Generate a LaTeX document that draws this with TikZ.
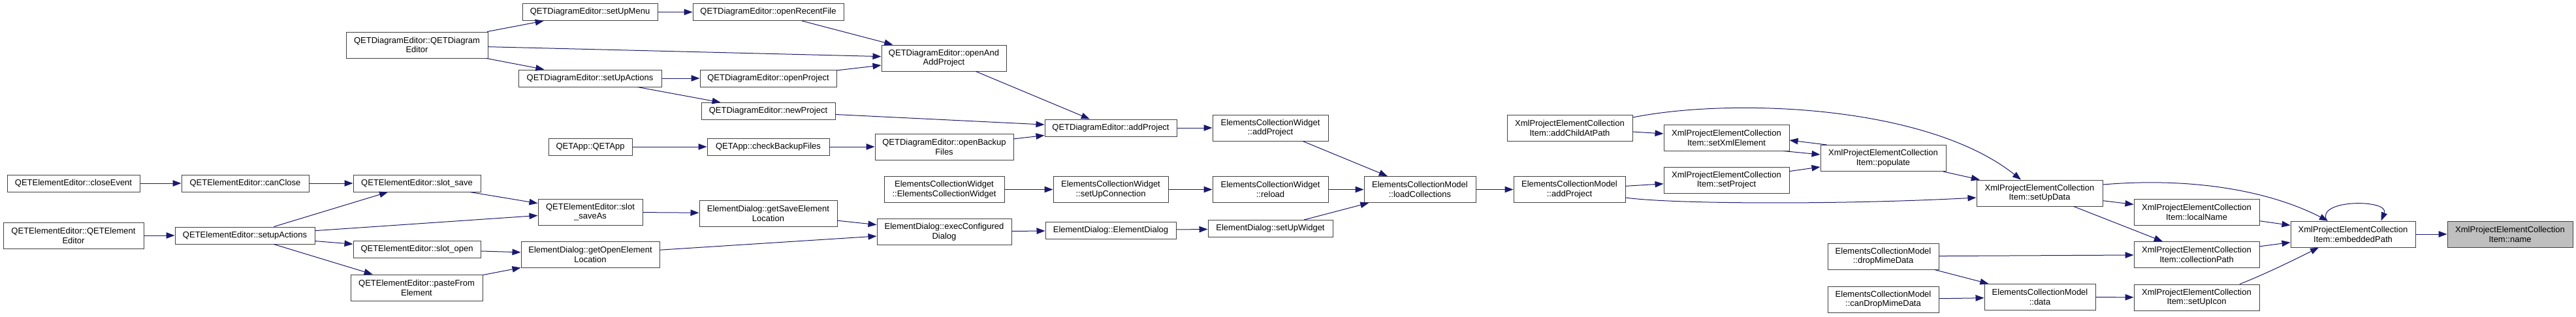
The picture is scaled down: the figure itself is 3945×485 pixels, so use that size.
\documentclass[tikz,border=0pt]{standalone}
\usepackage{fontspec}
\setmainfont{Liberation Sans}
\usetikzlibrary{arrows.meta}
\definecolor{edgec}{HTML}{191970}
\definecolor{boxc}{HTML}{404040}
\definecolor{hl}{HTML}{BFBFBF}
\begin{document}
\begin{tikzpicture}[x=1pt,y=-1pt,
  fn/.style={draw=boxc, line width=1pt, fill=white, inner sep=0pt, align=center,
    font=\fontsize{13}{14.7}\selectfont, text=black},
  one/.style={fn, minimum height=26pt},
  two/.style={fn, minimum height=40pt},
  call/.style={draw=edgec, line width=1pt, -{Triangle[length=13pt,width=9.5pt]}}]
\fill[white] (0,0) rectangle (3945,485);
% nodes
\node[one, minimum width=203pt] (closeEvent) at (112.5,281) {QETElementEditor::closeEvent};
\node[one, minimum width=195pt] (canClose) at (375.5,281) {QETElementEditor::canClose};
\node[one, minimum width=195pt] (slotSave) at (638.5,281) {QETElementEditor::slot\_save};
\node[two, minimum width=215pt] (qeeCtor) at (112.5,361) {QETElementEditor::QETElement\\Editor};
\node[one, minimum width=214pt] (setupActionsQEE) at (375,361) {QETElementEditor::setupActions};
\node[one, minimum width=195pt] (slotOpen) at (638.5,382) {QETElementEditor::slot\_open};
\node[two, minimum width=202pt] (pasteFrom) at (638,441) {QETElementEditor::pasteFrom\\Element};
\node[two, minimum width=217pt] (qdeCtor) at (638.5,69) {QETDiagramEditor::QETDiagram\\Editor};
\node[one, minimum width=207pt] (setUpMenu) at (903.5,18.5) {QETDiagramEditor::setUpMenu};
\node[one, minimum width=219pt] (setUpActionsQDE) at (903.5,120) {QETDiagramEditor::setUpActions};
\node[one, minimum width=128pt] (qetApp) at (904,225) {QETApp::QETApp};
\node[two, minimum width=160pt] (slotSaveAs) at (904,325) {QETElementEditor::slot\\\_saveAs};
\node[two, minimum width=212pt] (getOpenLoc) at (904,390) {ElementDialog::getOpenElement\\Location};
\node[one, minimum width=231pt] (openRecent) at (1176.5,18.5) {QETDiagramEditor::openRecentFile};
\node[one, minimum width=209pt] (openProject) at (1176.5,120) {QETDiagramEditor::openProject};
\node[one, minimum width=205pt] (newProject) at (1176.5,170.5) {QETDiagramEditor::newProject};
\node[one, minimum width=187pt] (checkBackup) at (1176.5,225) {QETApp::checkBackupFiles};
\node[two, minimum width=211pt] (getSaveLoc) at (1176.5,327) {ElementDialog::getSaveElement\\Location};
\node[two, minimum width=191pt] (openAndAdd) at (1445.5,89) {QETDiagramEditor::openAnd\\AddProject};
\node[two, minimum width=212pt] (openBackup) at (1446,225) {QETDiagramEditor::openBackup\\Files};
\node[two, minimum width=184pt] (ecwCtor) at (1446,290.5) {ElementsCollectionWidget\\::ElementsCollectionWidget};
\node[two, minimum width=206pt] (execConf) at (1446,355.5) {ElementDialog::execConfigured\\Dialog};
\node[one, minimum width=202pt] (addProjectQDE) at (1701,196) {QETDiagramEditor::addProject};
\node[two, minimum width=176pt] (ecwSetUp) at (1701,290.5) {ElementsCollectionWidget\\::setUpConnection};
\node[one, minimum width=200pt] (edCtor) at (1701,353) {ElementDialog::ElementDialog};
\node[two, minimum width=177pt] (ecwAdd) at (1945.5,196) {ElementsCollectionWidget\\::addProject};
\node[two, minimum width=177pt] (ecwReload) at (1945.5,290.5) {ElementsCollectionWidget\\::reload};
\node[one, minimum width=191pt] (setUpWidget) at (1945.5,350.5) {ElementDialog::setUpWidget};
\node[two, minimum width=171pt] (loadColl) at (2174.5,290.5) {ElementsCollectionModel\\::loadCollections};
\node[two, minimum width=171pt] (ecmAdd) at (2403.5,290.5) {ElementsCollectionModel\\::addProject};
\node[two, minimum width=192pt] (addChild) at (2404,196) {XmlProjectElementCollection\\Item::addChildAtPath};
\node[two, minimum width=192pt] (setXml) at (2644,211) {XmlProjectElementCollection\\Item::setXmlElement};
\node[two, minimum width=192pt] (setProject) at (2644,276) {XmlProjectElementCollection\\Item::setProject};
\node[two, minimum width=192pt] (populate) at (2884,242.5) {XmlProjectElementCollection\\Item::populate};
\node[two, minimum width=170pt] (dropMime) at (2884,393) {ElementsCollectionModel\\::dropMimeData};
\node[two, minimum width=170pt] (canDrop) at (2884,459) {ElementsCollectionModel\\::canDropMimeData};
\node[two, minimum width=193pt] (setUpData) at (3123.5,296) {XmlProjectElementCollection\\Item::setUpData};
\node[two, minimum width=170pt] (ecmData) at (3124,455.5) {ElementsCollectionModel\\::data};
\node[two, minimum width=192pt] (localName) at (3364,325) {XmlProjectElementCollection\\Item::localName};
\node[two, minimum width=192pt] (collPath) at (3364,390.5) {XmlProjectElementCollection\\Item::collectionPath};
\node[two, minimum width=192pt] (setUpIcon) at (3364,456) {XmlProjectElementCollection\\Item::setUpIcon};
\node[two, minimum width=191pt] (embedded) at (3603.5,359) {XmlProjectElementCollection\\Item::embeddedPath};
\node[two, minimum width=192pt, fill=hl] (name) at (3844,359) {XmlProjectElementCollection\\Item::name};
% straight edges
\foreach \a/\b in {closeEvent/canClose, canClose/slotSave, qeeCtor/setupActionsQEE,
  setupActionsQEE/slotSave, setupActionsQEE/slotSaveAs, setupActionsQEE/slotOpen,
  setupActionsQEE/pasteFrom, slotSave/slotSaveAs, slotSaveAs/getSaveLoc,
  slotOpen/getOpenLoc, pasteFrom/getOpenLoc, getSaveLoc/execConf, getOpenLoc/execConf,
  execConf/edCtor, edCtor/setUpWidget, setUpWidget/loadColl,
  qdeCtor/setUpMenu, qdeCtor/openAndAdd, qdeCtor/setUpActionsQDE, setUpMenu/openRecent,
  openRecent/openAndAdd, setUpActionsQDE/openProject, setUpActionsQDE/newProject,
  openProject/openAndAdd, newProject/addProjectQDE, openAndAdd/addProjectQDE,
  qetApp/checkBackup, checkBackup/openBackup, openBackup/addProjectQDE,
  addProjectQDE/ecwAdd, ecwAdd/loadColl, ecwCtor/ecwSetUp, ecwSetUp/ecwReload,
  ecwReload/loadColl, loadColl/ecmAdd, ecmAdd/setProject, addChild/setXml,
  setProject/populate, populate/setUpData, setUpData/localName, setUpData/collPath,
  localName/embedded, collPath/embedded, embedded/name, dropMime/collPath,
  dropMime/ecmData, canDrop/ecmData, ecmData/setUpIcon}
  {\draw[call] (\a) -- (\b);}
% special edges
\draw[call] ([yshift=-12.5pt]ecmAdd.east) .. controls (2560,313) and (2820,314) .. ([yshift=-7pt]setUpData.west);
\draw[call] ([yshift=16pt]addChild.east) .. controls (2650,150) and (2950,160) .. ([xshift=-28.5pt]setUpData.north);
\draw[call] ([xshift=-9pt]setXml.south east) -- ([yshift=5.5pt]populate.west);
\draw[call] ([xshift=10pt]populate.north west) -- ([yshift=-4pt]setXml.east);
\draw[call] ([yshift=13pt]setUpData.east) .. controls (3350,272) and (3470,290) .. ([xshift=-38.5pt]embedded.north);
\draw[call] ([xshift=66pt]setUpIcon.north) .. controls (3470,420) and (3520,395) .. ([xshift=-52.5pt]embedded.south);
\draw[call] ([xshift=-40pt]embedded.north) .. controls (3545,305) and (3660,305) .. ([xshift=43pt]embedded.north);
\end{tikzpicture}
\end{document}
